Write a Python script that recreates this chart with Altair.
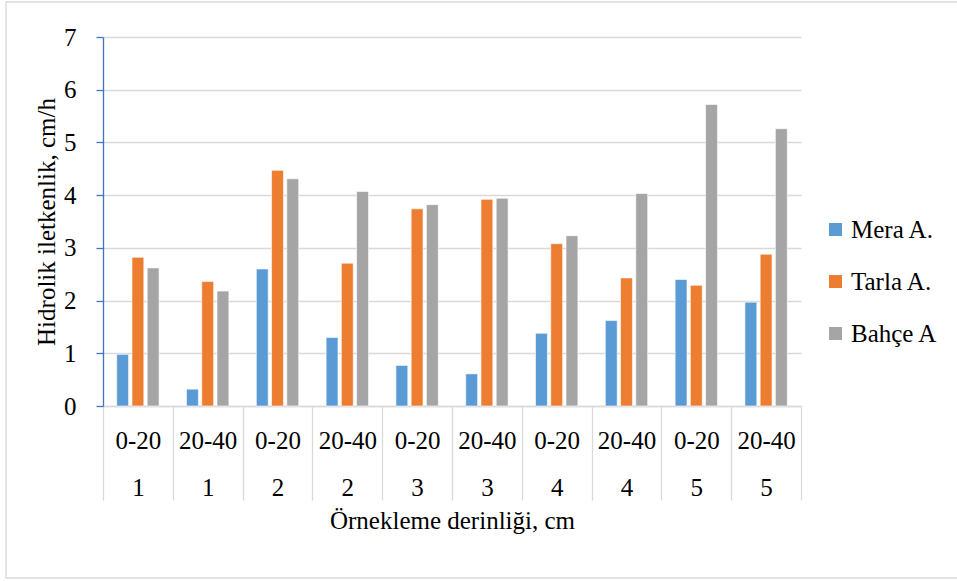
import altair as alt
import pandas as pd

# Sampling depth and site number for each x category
depths = ["0-20", "20-40", "0-20", "20-40", "0-20", "20-40", "0-20", "20-40", "0-20", "20-40"]
sites = ["1", "1", "2", "2", "3", "3", "4", "4", "5", "5"]

# Hydraulic conductivity (cm/h) per land use
mera = [0.98, 0.32, 2.60, 1.30, 0.77, 0.61, 1.38, 1.62, 2.40, 1.97]
tarla = [2.82, 2.36, 4.47, 2.71, 3.74, 3.92, 3.08, 2.43, 2.29, 2.88]
bahce = [2.62, 2.18, 4.31, 4.07, 3.82, 3.94, 3.23, 4.03, 5.72, 5.26]

series_names = ["Mera A.", "Tarla A.", "Bahçe A"]
series_colors = ["#5B9BD5", "#ED7D31", "#A5A5A5"]

keys = [f"{d}|{s}" for d, s in zip(depths, sites)]
rows = []
for name, vals in zip(series_names, [mera, tarla, bahce]):
    for k, v in zip(keys, vals):
        rows.append({"key": k, "seri": name, "deger": v})
df = pd.DataFrame(rows)

FONT = "Liberation Serif"
GRID = "#D9D9D9"
FS = 25

bars = alt.Chart(df).mark_bar(stroke="white", strokeWidth=0.6).encode(
    x=alt.X(
        "key:N",
        sort=keys,
        scale=alt.Scale(paddingInner=0, paddingOuter=0),
        axis=alt.Axis(
            title="Örnekleme derinliği, cm",
            labelExpr="split(datum.label, '|')",
            labelAngle=0,
            labelLineHeight=47,
            labelFontSize=FS,
            labelFont=FONT,
            labelColor="#000000",
            labelPadding=-72,
            tickBand="extent",
            tickSize=94,
            tickColor=GRID,
            tickWidth=1.3,
            domainColor=GRID,
            domainWidth=1.3,
            titleFont=FONT,
            titleFontSize=FS,
            titleFontWeight="normal",
            titleColor="#000000",
            titlePadding=8,
        ),
    ),
    xOffset=alt.XOffset(
        "seri:N",
        sort=series_names,
        scale=alt.Scale(paddingInner=0.22, paddingOuter=0.9),
    ),
    y=alt.Y(
        "deger:Q",
        scale=alt.Scale(domain=[0, 7], nice=False),
        axis=alt.Axis(
            title="Hidrolik iletkenlik, cm/h",
            values=[0, 1, 2, 3, 4, 5, 6, 7],
            format="d",
            grid=True,
            gridColor=GRID,
            gridWidth=1.3,
            domainColor="#4472C4",
            domainWidth=1.3,
            tickColor="#4472C4",
            tickWidth=1.3,
            tickSize=7,
            labelFont=FONT,
            labelFontSize=FS,
            labelColor="#000000",
            labelPadding=20,
            titleFont=FONT,
            titleFontSize=FS,
            titleFontWeight="normal",
            titleColor="#000000",
            titlePadding=4,
        ),
    ),
    color=alt.Color(
        "seri:N",
        sort=series_names,
        scale=alt.Scale(domain=series_names, range=series_colors),
        legend=alt.Legend(
            title=None,
            orient="none",
            legendX=720,
            legendY=180,
            symbolType="square",
            symbolSize=169,
            symbolStrokeWidth=0,
            labelFont=FONT,
            labelFontSize=FS,
            labelColor="#000000",
            labelOffset=3,
            rowPadding=26,
        ),
    ),
)

# Light outer frame around the chart
frame = alt.Chart(pd.DataFrame({"k": [0]})).mark_rect(
    fill=None, stroke=GRID, strokeWidth=1.3
).encode(
    x=alt.value(-97),
    x2=alt.value(870),
    y=alt.value(-35),
    y2=alt.value(541),
)

chart = alt.layer(frame, bars).properties(
    width=698,
    height=369,
    autosize=alt.AutoSizeParams(type="none"),
    padding={"left": 103, "top": 37, "right": 156, "bottom": 175},
    background="white",
).configure_view(stroke=None)

chart.save("out.html", embed_options={"renderer": "svg", "actions": False})
